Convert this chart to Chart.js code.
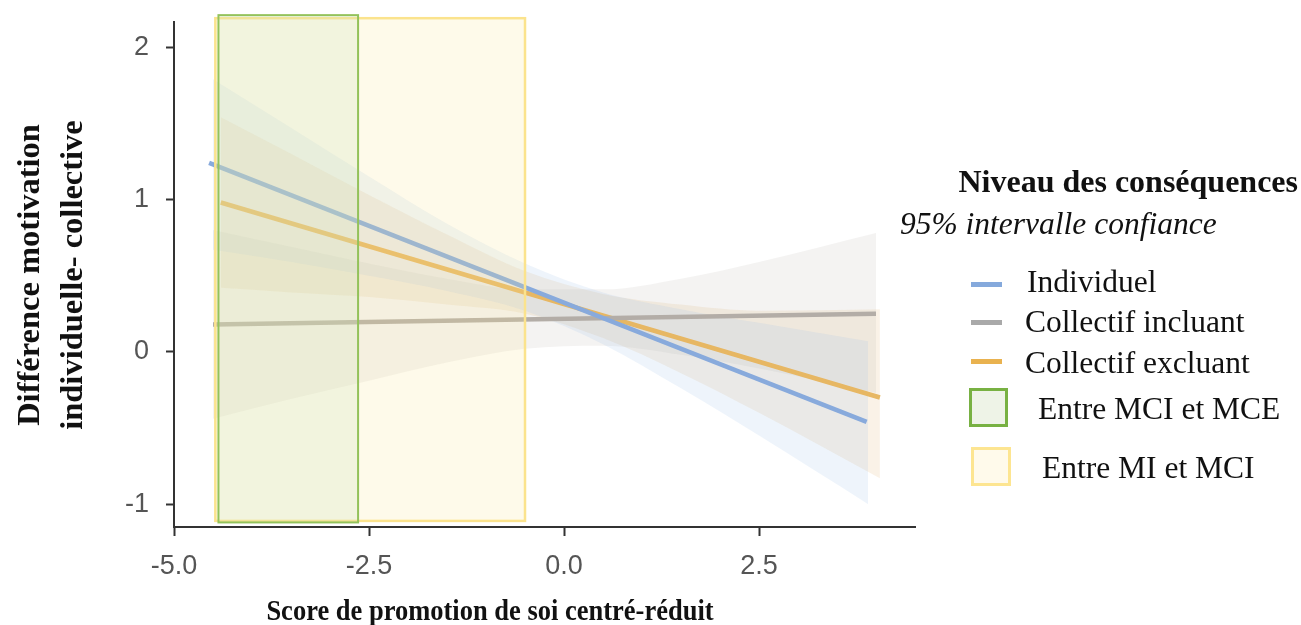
<!DOCTYPE html>
<html lang="fr">
<head>
<meta charset="utf-8">
<title>Différence motivation individuelle- collective</title>
<script src="https://cdn.jsdelivr.net/npm/chart.js@4.4.0/dist/chart.umd.min.js"></script>
<style>
  html, body { margin: 0; padding: 0; background: #fff; }
  #wrap { position: relative; width: 1301px; height: 625px; overflow: hidden; }
  #chart { position: absolute; left: 0; top: 0; }
  .txt { position: absolute; font-family: "Liberation Serif", "Times New Roman", serif; color: #111; line-height: 1; white-space: nowrap; }
  .sw { position: absolute; box-sizing: border-box; }
</style>
</head>
<body>
<div id="wrap">
  <canvas id="chart" width="1301" height="625"></canvas>

  <div class="txt" id="yTitle" style="left:-150px; top:232px; width:400px; height:86px; line-height:43px; font-size:32.5px; font-weight:bold; text-align:center; transform:rotate(-90deg);">Différence motivation<br>individuelle- collective</div>
  <div class="txt" id="xTitle" style="left:190px; top:595px; width:600px; line-height:30px; font-size:26.5px; font-weight:bold; text-align:center; transform:scaleY(1.12);">Score de promotion de soi centré-réduit</div>

  <div class="txt" style="right:3px; top:165px; font-size:32px; font-weight:bold;">Niveau des conséquences</div>
  <div class="txt" style="left:900px; top:208px; font-size:31.5px; font-style:italic;">95% intervalle confiance</div>

  <div class="sw" style="left:971px; top:282px; width:31px; height:5px; background:#85a9dc;"></div>
  <div class="sw" style="left:971px; top:320px; width:31px; height:5px; background:#a9a9a9;"></div>
  <div class="sw" style="left:971px; top:359px; width:31px; height:5px; background:#e9b24f;"></div>
  <div class="sw" style="left:969px; top:388px; width:39px; height:39px; border:3px solid #78b143; background:#eef3e7;"></div>
  <div class="sw" style="left:971px; top:447px; width:40px; height:39px; border:3px solid #fde591; background:#fffaeb;"></div>

  <div class="txt" style="left:1027px; top:266px; font-size:31.5px;">Individuel</div>
  <div class="txt" style="left:1025px; top:306px; font-size:31.5px;">Collectif incluant</div>
  <div class="txt" style="left:1025px; top:347px; font-size:31.5px;">Collectif excluant</div>
  <div class="txt" style="left:1038px; top:393px; font-size:31.5px;">Entre MCI et MCE</div>
  <div class="txt" style="left:1042px; top:452px; font-size:31.5px;">Entre MI et MCI</div>
</div>

<script>
// axes
const xTicks = [-5, -2.5, 0, 2.5];
const yTicks = [-1, 0, 1, 2];

// droites de régression (extrémités)
const indivX = [-4.55, 3.88];
const indivY = [1.24, -0.46];
const inclX = [-4.5, 4.0];
const inclY = [0.18, 0.25];
const exclX = [-4.4, 4.05];
const exclY = [0.98, -0.30];

// intervalles de confiance 95%
const indivBandX = [-4.5, -3.5, -2.5, -1.5, -0.5, 0.5, 1.5, 2.5, 3.9];
const indivLow = [0.67, 0.59, 0.50, 0.40, 0.27, 0.05, -0.24, -0.55, -1.00];
const indivHigh = [1.79, 1.47, 1.15, 0.84, 0.58, 0.39, 0.28, 0.19, 0.07];

const inclBandX = [-4.5, -3.5, -2.5, -1.5, -0.5, 0.5, 1.5, 2.5, 4.0];
const inclLow = [-0.44, -0.31, -0.19, -0.07, 0.02, 0.04, -0.02, -0.11, -0.27];
const inclHigh = [0.80, 0.69, 0.58, 0.48, 0.41, 0.41, 0.48, 0.59, 0.78];

const exclBandX = [-4.4, -3.5, -2.5, -1.5, -0.5, 0.5, 1.5, 2.5, 4.05];
const exclLow = [0.42, 0.39, 0.36, 0.31, 0.25, 0.09, -0.14, -0.40, -0.83];
const exclHigh = [1.54, 1.30, 1.03, 0.77, 0.53, 0.38, 0.31, 0.27, 0.28];

// zones de significativité
const zoneMiMciX = [-4.47, -0.5];
const zoneMiMciY = [-1.11, 2.19];
const zoneMciMceX = [-4.43, -2.64];
const zoneMciMceY = [-1.12, 2.21];

const pts = (xs, ys) => xs.map((x, i) => ({ x: x, y: ys[i] }));

function lineSet(xs, ys, color) {
  return {
    data: pts(xs, ys),
    borderColor: color,
    borderWidth: 4.5,
    borderCapStyle: "butt",
    pointRadius: 0,
    fill: false,
    order: 0,
  };
}

function bandSets(xs, low, high, color) {
  return [
    { data: pts(xs, low), borderWidth: 0, pointRadius: 0, fill: false, order: 1, cubicInterpolationMode: "monotone" },
    { data: pts(xs, high), borderWidth: 0, pointRadius: 0, fill: "-1", backgroundColor: color, order: 1, cubicInterpolationMode: "monotone" },
  ];
}

// dessine les rectangles par-dessus les courbes, via les échelles
const zonesPlugin = {
  id: "zones",
  afterDatasetsDraw(chart) {
    const { ctx, scales } = chart;
    const rect = (xs, ys, fill, stroke, lw) => {
      const x0 = scales.x.getPixelForValue(xs[0]);
      const x1 = scales.x.getPixelForValue(xs[1]);
      const y0 = scales.y.getPixelForValue(ys[1]);
      const y1 = scales.y.getPixelForValue(ys[0]);
      ctx.save();
      ctx.fillStyle = fill;
      ctx.fillRect(x0, y0, x1 - x0, y1 - y0);
      ctx.strokeStyle = stroke;
      ctx.lineWidth = lw;
      ctx.strokeRect(x0, y0, x1 - x0, y1 - y0);
      ctx.restore();
    };
    rect(zoneMiMciX, zoneMiMciY, "rgba(248,230,150,0.2)", "#fbe38d", 2.5);
    rect(zoneMciMceX, zoneMciMceY, "rgba(207,226,186,0.25)", "#93c25a", 2);
  },
};

const datasets = [
  lineSet(indivX, indivY, "#88aadc"),
  lineSet(inclX, inclY, "#b3ada7"),
  lineSet(exclX, exclY, "#e7b763"),
  ...bandSets(indivBandX, indivLow, indivHigh, "rgba(150,185,230,0.16)"),
  ...bandSets(inclBandX, inclLow, inclHigh, "rgba(180,175,170,0.15)"),
  ...bandSets(exclBandX, exclLow, exclHigh, "rgba(225,185,120,0.18)"),
];

const tickFont = { family: "'Liberation Sans', Arial, sans-serif", size: 27 };

new Chart(document.getElementById("chart"), {
  type: "line",
  data: { datasets: datasets },
  plugins: [zonesPlugin],
  options: {
    responsive: false,
    animation: false,
    layout: { padding: { left: 114, right: 386, top: 22, bottom: 48 } },
    plugins: { legend: { display: false }, tooltip: { enabled: false } },
    scales: {
      x: {
        type: "linear",
        min: -5,
        max: 4.5,
        afterBuildTicks: (s) => { s.ticks = xTicks.map((v) => ({ value: v })); },
        afterFit: (s) => { s.height = 50; s.paddingLeft = 0; s.paddingRight = 0; },
        ticks: { font: tickFont, color: "#555", padding: 14, callback: (v) => v.toFixed(1) },
        grid: { drawOnChartArea: false, drawTicks: true, tickLength: 9, tickColor: "#333", tickWidth: 2 },
        border: { display: true, color: "#333", width: 2 },
      },
      y: {
        type: "linear",
        min: -1.15,
        max: 2.165,
        afterBuildTicks: (s) => { s.ticks = yTicks.map((v) => ({ value: v })); },
        afterFit: (s) => { s.width = 60; s.paddingTop = 0; s.paddingBottom = 0; },
        ticks: { font: tickFont, color: "#555", padding: 17, callback: (v) => String(v) },
        grid: { drawOnChartArea: false, drawTicks: true, tickLength: 8, tickColor: "#333", tickWidth: 2 },
        border: { display: true, color: "#333", width: 2 },
      },
    },
  },
});
</script>
</body>
</html>
